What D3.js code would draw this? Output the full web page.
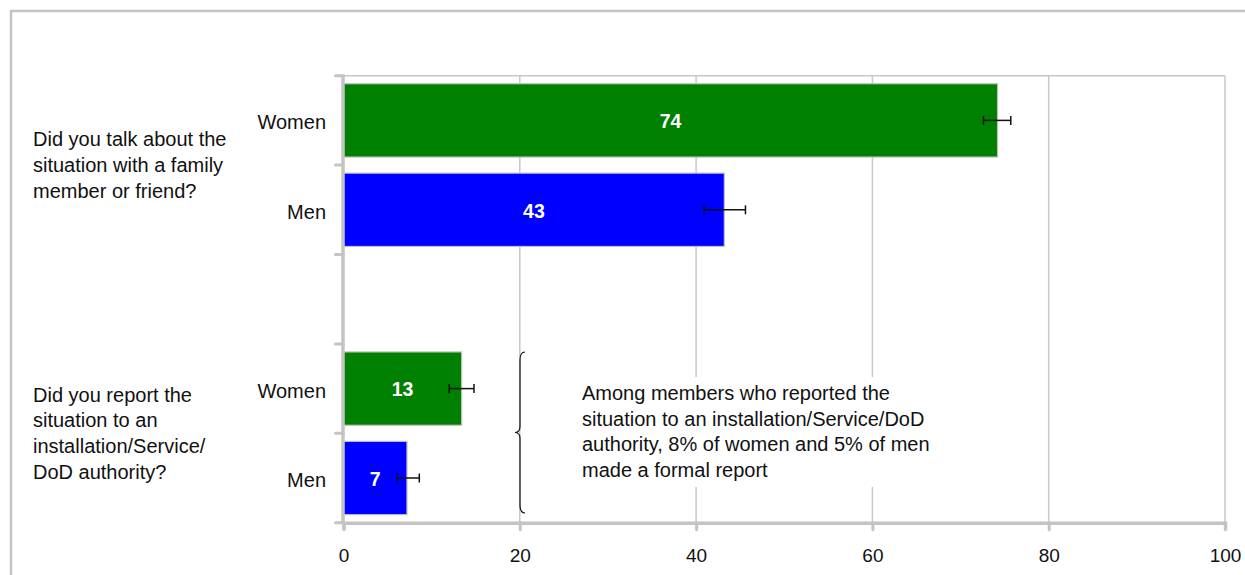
<!DOCTYPE html>
<html>
<head>
<meta charset="utf-8">
<script src="https://cdn.jsdelivr.net/npm/d3@7"></script>
<style>
  body { margin: 0; background: #fff; }
  text { font-family: "Liberation Sans", Arial, sans-serif; }
</style>
</head>
<body>
<svg></svg>
<script>
// Data
const questions = [
  ["Did you talk about the", "situation with a family", "member or friend?"],
  ["Did you report the", "situation to an", "installation/Service/", "DoD authority?"]
];
const groups = ["Women", "Men"];
const talkValues = [74.2, 43.2];
const talkLow = [72.6, 40.9];
const talkHigh = [75.7, 45.6];
const reportValues = [13.4, 7.2];
const reportLow = [12.0, 6.1];
const reportHigh = [14.8, 8.6];
const xTicks = [0, 20, 40, 60, 80, 100];
const note = ["Among members who reported the", "situation to an installation/Service/DoD",
  "authority, 8% of women and 5% of men", "made a formal report"];

const colors = { Women: "#008000", Men: "#0000ff" };

const rows = [];
groups.forEach((g, i) => rows.push({ key: "talk-" + g, group: g, value: talkValues[i], lo: talkLow[i], hi: talkHigh[i] }));
rows.push({ key: "gap", group: null });
groups.forEach((g, i) => rows.push({ key: "report-" + g, group: g, value: reportValues[i], lo: reportLow[i], hi: reportHigh[i] }));

const width = 1245, height = 575;
const svg = d3.select("svg").attr("width", width).attr("height", height);

// outer frame
svg.append("rect").attr("x", 11).attr("y", 11).attr("width", 1260).attr("height", 620)
  .attr("fill", "none").attr("stroke", "#c4c4c4").attr("stroke-width", 2.5);

const plotLeft = 343.5, plotRight = 1225, plotTop = 75.7, plotBottom = 522.7;

const x = d3.scaleLinear().domain([0, 100]).range([plotLeft, plotRight]);
const y = d3.scaleBand().domain(rows.map(d => d.key)).range([plotTop, plotBottom])
  .paddingInner(0.18).paddingOuter(0.09);

// grid
svg.append("g").selectAll("line").data(xTicks.slice(1)).join("line")
  .attr("x1", d => x(d)).attr("x2", d => x(d)).attr("y1", plotTop).attr("y2", plotBottom)
  .attr("stroke", "#c8c8c8").attr("stroke-width", 1.5);
svg.append("line").attr("x1", plotLeft).attr("x2", plotRight).attr("y1", plotTop).attr("y2", plotTop)
  .attr("stroke", "#c8c8c8").attr("stroke-width", 1.5);

// bars
const barRows = rows.filter(d => d.group);
svg.append("g").selectAll("rect").data(barRows).join("rect")
  .attr("x", x(0)).attr("y", d => y(d.key))
  .attr("width", d => x(d.value) - x(0)).attr("height", y.bandwidth())
  .attr("fill", d => colors[d.group]).attr("stroke", "#c0c0c0").attr("stroke-width", 1.2);

// value labels
svg.append("g").selectAll("text").data(barRows).join("text")
  .attr("x", d => (x(0) + x(d.value)) / 2).attr("y", d => y(d.key) + y.bandwidth() / 2 + 1)
  .attr("dy", "0.35em").attr("text-anchor", "middle")
  .attr("fill", "#fff").attr("font-weight", "bold").attr("font-size", 19.5)
  .text(d => d3.format(".0f")(d.value));

// error bars
const eb = svg.append("g").attr("stroke", "#111").attr("stroke-width", 1.5);
barRows.forEach(d => {
  const cy = y(d.key) + y.bandwidth() / 2;
  eb.append("line").attr("x1", x(d.lo)).attr("x2", x(d.hi)).attr("y1", cy).attr("y2", cy);
  eb.append("line").attr("x1", x(d.lo)).attr("x2", x(d.lo)).attr("y1", cy - 4.5).attr("y2", cy + 4.5);
  eb.append("line").attr("x1", x(d.hi)).attr("x2", x(d.hi)).attr("y1", cy - 4.5).attr("y2", cy + 4.5);
});

// y axis with ticks at band boundaries
const bounds = d3.range(rows.length + 1).map(i => plotTop + i * (plotBottom - plotTop) / rows.length);
svg.append("line").attr("x1", plotLeft - 0.5).attr("x2", plotLeft - 0.5).attr("y1", plotTop - 1).attr("y2", plotBottom + 1)
  .attr("stroke", "#c4c4c4").attr("stroke-width", 3.5);
svg.append("g").selectAll("line").data(bounds).join("line")
  .attr("x1", plotLeft - 8).attr("x2", plotLeft).attr("y1", d => d).attr("y2", d => d)
  .attr("stroke", "#c4c4c4").attr("stroke-width", 3).attr("stroke-linecap", "round");

// x axis
const xAxis = svg.append("g").attr("transform", `translate(0,${plotBottom})`)
  .call(d3.axisBottom(x).tickValues(xTicks).tickSize(7).tickPadding(19));
xAxis.select(".domain").attr("stroke", "#c4c4c4").attr("stroke-width", 3.5);
xAxis.selectAll(".tick line").attr("stroke", "#c4c4c4").attr("stroke-width", 3).attr("stroke-linecap", "round");
xAxis.selectAll(".tick text").attr("font-size", 19).attr("fill", "#111")
  .attr("font-family", "'Liberation Sans', Arial, sans-serif");

// category labels
svg.append("g").selectAll("text").data(barRows).join("text")
  .attr("x", 326).attr("y", d => y(d.key) + y.bandwidth() / 2 + 2).attr("dy", "0.35em")
  .attr("text-anchor", "end").attr("font-size", 20).attr("fill", "#111")
  .text(d => d.group);

// question labels
const groupCenters = [(bounds[0] + bounds[2]) / 2, (bounds[3] + bounds[5]) / 2];
questions.forEach((lines, qi) => {
  const t = svg.append("text").attr("font-size", 20).attr("fill", "#111");
  lines.forEach((ln, i) => {
    t.append("tspan").attr("x", 33)
      .attr("y", groupCenters[qi] + (i - (lines.length - 1) / 2) * 25.7 + 7)
      .text(ln);
  });
});

// note with brace
svg.append("rect").attr("x", 572).attr("y", 377).attr("width", 340).attr("height", 110).attr("fill", "#fff");
const nt = svg.append("text").attr("font-size", 20).attr("fill", "#111");
note.forEach((ln, i) => {
  nt.append("tspan").attr("x", 582).attr("y", 400 + i * 25.6).text(ln);
});
const bx = 520, by0 = 352, by1 = 513, bm = (by0 + by1) / 2;
svg.append("path")
  .attr("d", `M${bx + 5},${by0} Q${bx},${by0} ${bx},${by0 + 8} L${bx},${bm - 6} Q${bx},${bm} ${bx - 5},${bm}
              Q${bx},${bm} ${bx},${bm + 6} L${bx},${by1 - 8} Q${bx},${by1} ${bx + 5},${by1}`)
  .attr("fill", "none").attr("stroke", "#111").attr("stroke-width", 1.2);
</script>
</body>
</html>
